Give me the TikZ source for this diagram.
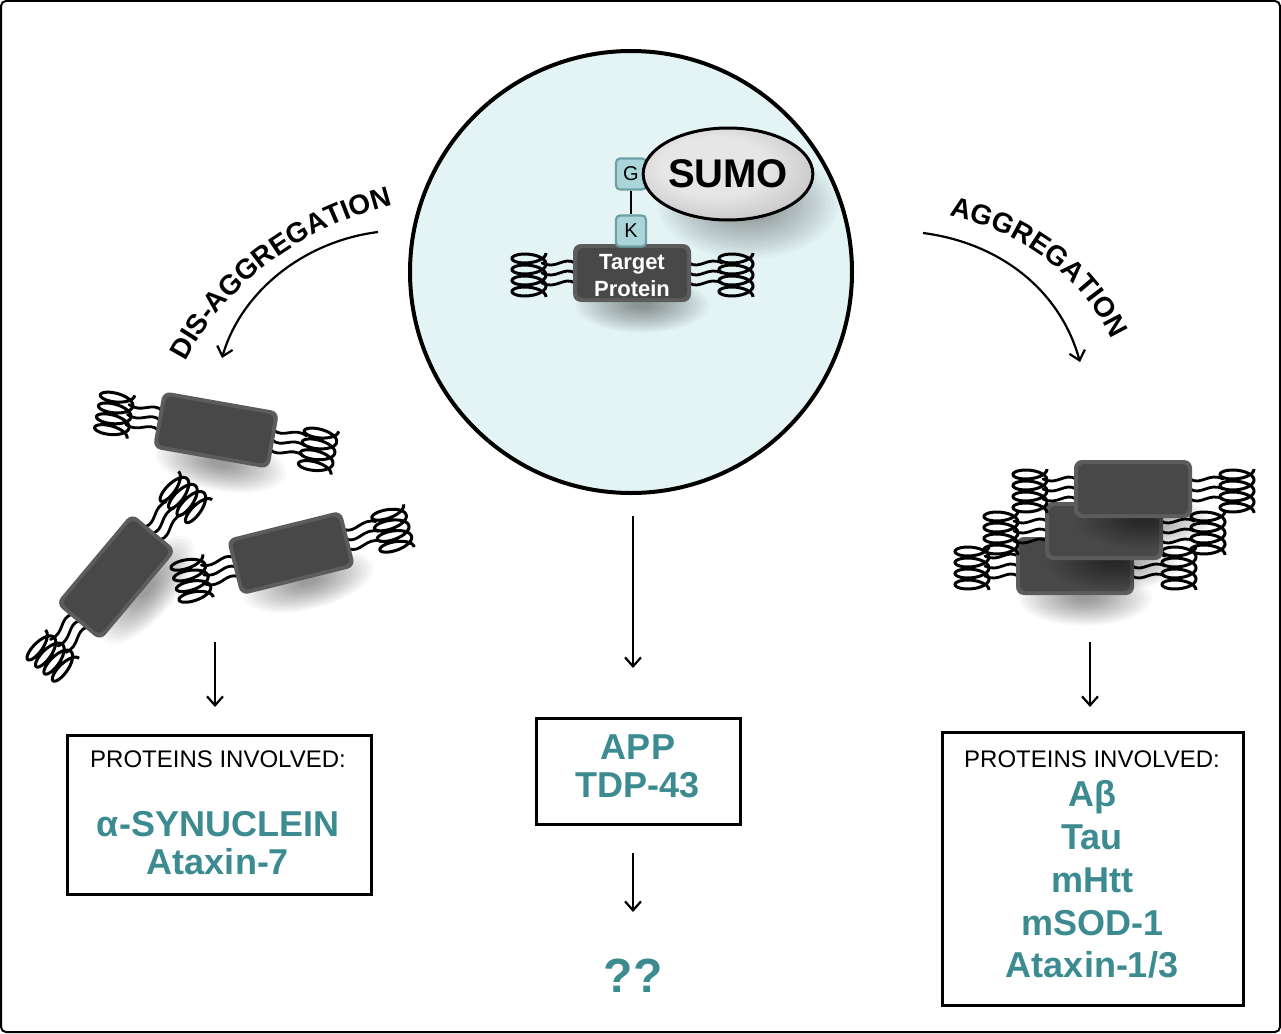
\documentclass[tikz,border=0pt]{standalone}
\usepackage{fontspec}
\setmainfont{Liberation Sans}
\usetikzlibrary{arrows.meta,decorations.text,shapes.geometric}

\definecolor{tealtxt}{RGB}{60,139,145}
\definecolor{cellin}{RGB}{228,243,244}
\definecolor{cellout}{RGB}{164,184,186}
\definecolor{sumoin}{RGB}{230,230,230}
\definecolor{sumoout}{RGB}{150,150,150}
\definecolor{tagfill}{RGB}{170,214,218}
\definecolor{tagdraw}{RGB}{110,160,165}
\definecolor{bodyout}{RGB}{92,92,92}
\definecolor{bodyin}{RGB}{72,72,72}

\pgfdeclareradialshading{cellshade}{\pgfpoint{0bp}{0bp}}{color(0bp)=(cellin); color(33bp)=(cellin); color(50bp)=(cellout)}
\pgfdeclareradialshading{sumoshade}{\pgfpoint{-6bp}{6bp}}{color(0bp)=(sumoin); color(16bp)=(sumoin); color(52bp)=(sumoout)}

\tikzset{
  strand/.style={line width=2.8pt, line cap=round},
  coil/.style={line width=3pt},
  arr/.style={line width=2.2pt, -{Straight Barb[length=9pt,width=16pt]}},
  boxstyle/.style={draw, line width=3pt, fill=white, inner sep=0pt},
  hdr/.style={anchor=base, font=\fontsize{24}{24}\selectfont},
  prot/.style={anchor=base, text=tealtxt, font=\bfseries\fontsize{36}{36}\selectfont},
  tag/.style={draw=tagdraw, fill=tagfill, line width=2.2pt, rounded corners=4pt,
    minimum width=30pt, minimum height=31pt, inner sep=0pt, font=\fontsize{20}{20}\selectfont},
  curvelabel/.style={decorate, decoration={text along path, text align=center,
    text={|\bfseries\fontsize{28}{28}\selectfont|#1}}},
  protein/.pic={
    \foreach \k in {1,...,16}{
      \fill[black, opacity=0.028] (10,32) ellipse ({6+3.8*\k} and {2+1.6*\k});
    }
    \foreach \s in {-10,0,10}{
      \draw[strand] (-57,\s) .. controls (-68,\s-7) and (-76,\s+7) .. (-90,\s);
      \draw[strand] (57,\s) .. controls (68,\s+7) and (76,\s-7) .. (90,\s);
    }
    \draw[coil] plot[domain=0:1440, samples=145, smooth] ({-103+17*cos(\x)}, {-20+7*sin(\x)+11*\x/360});
    \draw[coil] plot[domain=0:1440, samples=145, smooth] ({104+17*cos(\x)}, {-20+7*sin(\x)+11*\x/360});
    \fill[bodyout, rounded corners=8pt] (-59,-29) rectangle (59,29);
    \fill[bodyin, rounded corners=6pt] (-55,-25) rectangle (55,25);
  }
}

\begin{document}
\begin{tikzpicture}[x=1pt,y=-1pt]
\useasboundingbox (0,0) rectangle (1281,1033);
\fill[white] (0,0) rectangle (1281,1033);
\draw[line width=2pt, rounded corners=5pt] (1,1) rectangle (1280,1032);

% cell
\node[circle, minimum size=442pt, draw, line width=4pt, shade, shading=cellshade, inner sep=0pt] (cell) at (631,272) {};

% target protein with SUMO
\pic at (632,273) {protein};
\node[text=white, align=center, font=\bfseries\fontsize{22}{27}\selectfont] (tp) at (632,276) {Target\\Protein};
\node[tag] (K) at (631,231) {K};
\node[tag] (G) at (631,174) {G};
\draw[line width=2pt] (G) -- (K);
\foreach \k in {1,...,16}{
  \fill[black, opacity=0.022] (748,204) ellipse ({20+4.4*\k} and {10+2.8*\k});
}
\node[ellipse, minimum width=156pt, minimum height=92pt, draw, line width=3pt, shade, shading=sumoshade,
  inner sep=0pt, font=\bfseries\fontsize{40}{40}\selectfont] (sumo) at (728,174) {SUMO};

% curved arrows and labels
\coordinate (dstart) at (378,232);
\coordinate (dend) at (222,358);
\draw[arr] (dstart) .. controls (300,242) and (240,295) .. (dend);
\path[curvelabel=DIS-AGGREGATION] (182,368) .. controls (220,290) and (295,228) .. (400,203);

\coordinate (astart) at (923,233);
\coordinate (aend) at (1080,362);
\draw[arr] (astart) .. controls (1000,243) and (1060,290) .. (aend);
\path[curvelabel=AGGREGATION] (938,214) .. controls (1020,228) and (1085,275) .. (1116,350);

% dis-aggregated proteins
\pic[rotate=-10] at (216,430) {protein};
\pic[rotate=50] at (116,577) {protein};
\pic[rotate=14] at (291,553) {protein};

% aggregated proteins
\pic at (1075,566) {protein};
\pic at (1104,531) {protein};
\pic at (1133,489) {protein};

% vertical arrows
\coordinate (l1) at (215,642); \coordinate (l2) at (215,707);
\draw[arr] (l1) -- (l2);
\coordinate (c1) at (633,516); \coordinate (c2) at (633,668);
\draw[arr] (c1) -- (c2);
\coordinate (c3) at (633,853); \coordinate (c4) at (633,912);
\draw[arr] (c3) -- (c4);
\coordinate (r1) at (1090,642); \coordinate (r2) at (1090,707);
\draw[arr] (r1) -- (r2);

% boxes
\node[boxstyle, minimum width=304pt, minimum height=159pt] (lbox) at (219,814.5) {};
\node[hdr] (lh) at (218,767) {PROTEINS INVOLVED:};
\node[prot] (lp1) at (218,836) {α-SYNUCLEIN};
\node[prot] (lp2) at (218,874) {Ataxin-7};

\node[boxstyle, minimum width=204pt, minimum height=106pt] (cbox) at (638,771) {};
\node[prot] (cp1) at (638,759) {APP};
\node[prot] (cp2) at (638,797) {TDP-43};
\node[anchor=base, text=tealtxt, font=\bfseries\fontsize{48}{48}\selectfont] (qq) at (633,992) {??};

\node[boxstyle, minimum width=301pt, minimum height=273pt] (rbox) at (1092.5,868.5) {};
\node[hdr] (rh) at (1092,767) {PROTEINS INVOLVED:};
\node[prot] (rp1) at (1092,806) {Aβ};
\node[prot] (rp2) at (1092,849) {Tau};
\node[prot] (rp3) at (1092,892) {mHtt};
\node[prot] (rp4) at (1092,935) {mSOD-1};
\node[prot] (rp5) at (1092,977) {Ataxin-1/3};
\end{tikzpicture}
\end{document}
